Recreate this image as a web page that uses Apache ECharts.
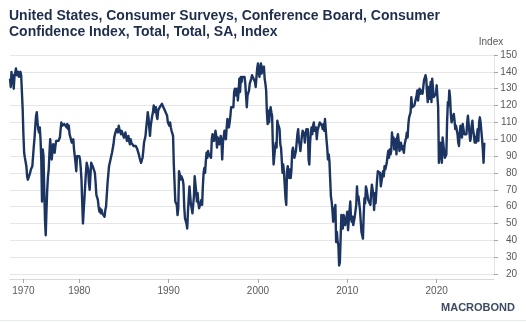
<!DOCTYPE html>
<html><head><meta charset="utf-8">
<script src="https://cdn.jsdelivr.net/npm/echarts@6/dist/echarts.min.js"></script>
<style>html,body{margin:0;padding:0;background:#fff}#c{width:526px;height:323px}</style>
</head><body><div id="c"></div>
<script>
const titleText = 'United States, Consumer Surveys, Conference Board, Consumer\nConfidence Index, Total, Total, SA, Index';
const yAxisName = 'Index';
const tickYears = [1970, 1980, 1990, 2000, 2010, 2020];

// Bimonthly observations, Feb 1967 - Jun 1977
const cci1967_1977 = [136,131,140,133,138,130,137,136,142,138,139,140,137,138,
  140,138,128,118,103,92,89,88,84,78,76,75,77,80,82,82,84,
  90,96,101,108,114,116,110,106,104,107,100,88,63,94,90,70,52,43,
  58,70,78,82,92,100,94,88,93,97,94,92,96,99];
// Monthly observations, Jul 1977 - Dec 1979
const cci1977_1979 = [99,98,99,100,101,106,
  110,108,109,107,109,108,110,107,109,106,108,103,
  104,102,98,97,100,94,90,86,81,90,91,89];
const cci1980s = [
  90,88,83,76,62,50,58,65,73,80,86,85,
  82,74,70,78,86,87,84,85,84,80,74,67,
  66,64,60,57,59,56,58,56,55,56,54,58,
  60,67,74,79,84,86,88,90,92,93,97,101,
  103,104,106,105,104,108,106,106,103,105,104,104,
  101,100,104,103,99,100,102,99,97,100,98,97,
  97,96,96,96,96,95,94,93,91,89,88,86,
  87,89,93,98,100,102,107,111,116,113,107,102,
  108,111,114,116,120,118,116,119,114,112,117,116,
  119,120,118,121,120,119,118,117,116,116,114,110];
const cci1990s = [
  109,108,110,107,105,105,102,85,86,63,62,61,
  55,59,81,79,76,78,77,76,73,60,53,53,
  50,47,57,65,72,73,61,59,56,55,66,78,
  77,69,63,68,62,59,59,59,64,61,72,80,
  83,80,87,92,89,93,91,90,90,89,100,103,
  101,99,100,105,102,95,101,102,97,96,102,99,
  88,98,98,105,104,100,107,112,112,107,110,114,
  119,119,119,119,128,130,126,128,130,123,128,136,
  128,137,134,137,136,138,137,133,126,119,126,127,
  129,133,134,136,138,139,136,136,134,131,137,142];
const cci2000s = [
  145,141,137,138,145,139,143,141,143,136,133,129,
  116,109,117,110,116,119,116,114,97,85,85,95,
  98,95,111,109,110,106,97,95,94,80,85,80,
  79,65,61,81,84,84,77,82,77,82,93,95,
  96,89,89,93,93,103,106,99,97,93,93,102,
  105,104,103,98,103,106,104,106,88,85,98,104,
  107,103,108,110,105,105,107,100,105,105,105,110,
  110,111,108,106,109,105,112,106,100,95,88,91,
  87,76,66,63,58,51,52,59,61,39,45,39,
  37,25,27,41,55,49,47,55,53,49,51,54];
const cci2010s = [
  57,46,52,58,63,53,51,54,49,50,54,53,
  61,72,64,66,62,58,59,45,46,41,55,65,
  62,72,70,69,64,63,65,61,68,73,72,67,
  58,68,62,69,76,81,81,82,80,72,72,78,
  81,78,84,82,82,86,90,93,89,94,91,93,
  104,99,101,94,95,100,91,101,103,99,93,96,
  98,94,96,95,92,97,97,101,104,101,109,113,
  112,116,125,119,118,119,120,120,121,126,129,123,
  124,130,127,129,129,127,128,135,135,138,136,128,
  122,131,124,129,134,122,136,135,125,126,126,127];
const cci2020s = [
  132,133,119,86,86,98,92,86,101,101,93,89,
  89,91,110,122,120,129,125,115,110,112,112,115,
  111,106,108,109,103,98,96,104,108,103,101,109,
  106,103,104,104,103,110,114,109,104,99,101,108,
  111,105,103,98,101,98,102,106,99,110,113,110,
  105,100,94,86,98];

// observation dates: bimonthly to mid-1977, monthly afterwards (axis runs to mid-2026)
const pad = m => (m < 10 ? '0' : '') + m;
const cats = [];
{ let y = 1967, m = 2;
  while (y < 1977 || (y === 1977 && m <= 6)) { cats.push(y + '-' + pad(m)); m += 2; if (m > 12) { m -= 12; y++; } }
  y = 1977; m = 7;
  while (y < 2026 || (y === 2026 && m <= 6)) { cats.push(y + '-' + pad(m)); m++; if (m > 12) { m = 1; y++; } }
}
const values = [].concat(cci1967_1977, cci1977_1979, cci1980s, cci1990s, cci2000s, cci2010s, cci2020s);
const tickCats = new Set(tickYears.map(y => cats.find(c => c.startsWith(y + '-'))));
const showTick = (i, v) => tickCats.has(v);

const chart = echarts.init(document.getElementById('c'), null, {renderer: 'canvas'});
chart.setOption({
  animation: false,
  backgroundColor: '#fff',
  textStyle: {fontFamily: 'Liberation Sans, Arial, sans-serif'},
  title: {
    text: titleText, left: 4, top: 3,
    textStyle: {fontSize: 14, fontWeight: 'bold', color: '#1f2d4d', lineHeight: 16, fontFamily: 'Liberation Sans, Arial, sans-serif'}
  },
  grid: {left: 10, right: 32, top: 55, bottom: 49, containLabel: false, outerBoundsMode: 'none'},
  xAxis: {
    type: 'category', data: cats, boundaryGap: false, offset: 5,
    axisLine: {show: true, lineStyle: {color: '#d9d9d9', width: 1}},
    axisTick: {show: true, interval: showTick, length: 4, lineStyle: {color: '#a6a6a6'}},
    axisLabel: {interval: showTick, formatter: v => v.slice(0, 4), color: '#595959', fontSize: 10, margin: 7},
    splitLine: {show: false}
  },
  yAxis: {
    type: 'value', position: 'right', min: 20, max: 150, interval: 10,
    name: yAxisName, nameLocation: 'end', nameGap: 8,
    nameTextStyle: {color: '#595959', fontSize: 10, align: 'center', padding: [0, 6, 0, 0]},
    axisLine: {show: true, lineStyle: {color: '#e3e3e3'}},
    axisTick: {show: true, length: 4, lineStyle: {color: '#a6a6a6'}},
    axisLabel: {color: '#595959', fontSize: 10, margin: 23, align: 'right'},
    splitLine: {show: true, lineStyle: {color: '#e6e6e6', width: 1}}
  },
  series: [{
    type: 'line', data: values, showSymbol: false, symbol: 'none',
    lineStyle: {color: '#1c3461', width: 2.4, join: 'round'}, itemStyle: {color: '#1c3461'}
  }],
  graphic: [
    {type: 'text', right: 11, top: 302, style: {text: 'MACROBOND', fontSize: 11, fontWeight: 'bold', fill: '#3c4a63', fontFamily: 'Liberation Sans, Arial, sans-serif'}},
    {type: 'line', shape: {x1: 0, y1: 320.5, x2: 526, y2: 320.5}, style: {stroke: '#e6ebf2', lineWidth: 1}}
  ]
});
</script></body></html>
